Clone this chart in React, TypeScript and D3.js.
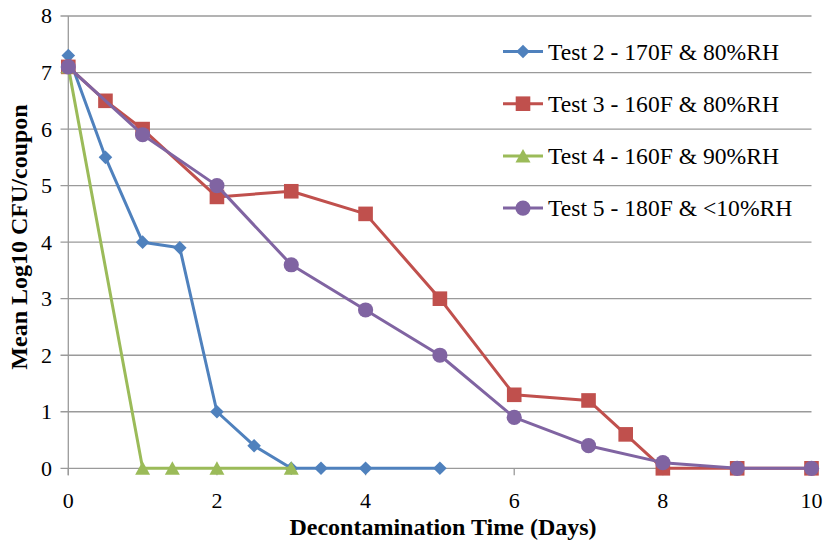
import React from "react";
import * as d3 from "d3";

const test2X = [0, 0.5, 1, 1.5, 2, 2.5, 3, 3.4, 4, 5];
const test2Y = [7.3, 5.5, 4, 3.9, 1, 0.4, 0, 0, 0, 0];
const test3X = [0, 0.5, 1, 2, 3, 4, 5, 6, 7, 7.5, 8, 9, 10];
const test3Y = [7.1, 6.5, 6, 4.8, 4.9, 4.5, 3, 1.3, 1.2, 0.6, 0, 0, 0];
const test4X = [0, 1, 1.4, 2, 3];
const test4Y = [7.1, 0, 0, 0, 0];
const test5X = [0, 1, 2, 3, 4, 5, 6, 7, 8, 9, 10];
const test5Y = [7.1, 5.9, 5, 3.6, 2.8, 2, 0.9, 0.4, 0.1, 0, 0];

const seriesNames = [
  "Test 2 - 170F & 80%RH",
  "Test 3 - 160F & 80%RH",
  "Test 4 - 160F & 90%RH",
  "Test 5 - 180F & <10%RH",
];
const xTicks = [0, 2, 4, 6, 8, 10];
const yTicks = [0, 1, 2, 3, 4, 5, 6, 7, 8];
const xTitle = "Decontamination Time (Days)";
const yTitle = "Mean Log10 CFU/coupon";

const colors = ["#4F81BD", "#C0504D", "#9BBB59", "#8064A2"];
const shapes = ["diamond", "square", "triangle", "circle"];

const FONT = "Liberation Serif";

function Marker({ shape, x, y, color }: { shape: string; x: number; y: number; color: string }) {
  if (shape === "diamond") {
    const s = 6.8;
    return <path d={`M${x},${y - s}L${x + s},${y}L${x},${y + s}L${x - s},${y}Z`} fill={color} />;
  }
  if (shape === "square") {
    const s = 7.3;
    return <rect x={x - s} y={y - s} width={2 * s} height={2 * s} fill={color} />;
  }
  if (shape === "triangle") {
    return <path d={`M${x},${y - 7}L${x + 7.5},${y + 6.5}L${x - 7.5},${y + 6.5}Z`} fill={color} />;
  }
  return <circle cx={x} cy={y} r={7.6} fill={color} />;
}

export default function App() {
  const W = 828, H = 544;
  const x = d3.scaleLinear().domain([0, 10]).range([68.3, 811.5]);
  const y = d3.scaleLinear().domain([0, 8]).range([468.3, 16]);
  const series = [
    { xs: test2X, ys: test2Y },
    { xs: test3X, ys: test3Y },
    { xs: test4X, ys: test4Y },
    { xs: test5X, ys: test5Y },
  ];
  const line = d3.line<[number, number]>().x((d) => x(d[0])).y((d) => y(d[1]));
  const grid = "#9a9a9a";
  const legX = 503, legY0 = 51.5, legDy = 52.2;

  return (
    <svg width={W} height={H} style={{ position: "absolute", left: 0, top: 0, background: "#fff", fontFamily: FONT }}>
      <rect width={W} height={H} fill="#fff" />
      {yTicks.map((t) => (
        <line key={t} x1={60.5} x2={x(10)} y1={y(t)} y2={y(t)} stroke={grid} strokeWidth={1.3} />
      ))}
      <line x1={x(0)} x2={x(0)} y1={y(8)} y2={y(0) + 7} stroke={grid} strokeWidth={1.3} />
      {xTicks.map((t) => (
        <line key={t} x1={x(t)} x2={x(t)} y1={y(0)} y2={y(0) + 7} stroke={grid} strokeWidth={1.3} />
      ))}
      {yTicks.map((t) => (
        <text key={t} x={52} y={y(t)} dy="0.34em" textAnchor="end" fontSize={22} fill="#000" fontFamily={FONT}>{t}</text>
      ))}
      {xTicks.map((t) => (
        <text key={t} x={x(t)} y={508} textAnchor="middle" fontSize={22} fill="#000" fontFamily={FONT}>{t}</text>
      ))}
      <text x={443} y={535} textAnchor="middle" fontSize={24} fontWeight="bold" fill="#000" fontFamily={FONT}>{xTitle}</text>
      <text transform={`translate(27,${237}) rotate(-90)`} textAnchor="middle" fontSize={24} fontWeight="bold" fill="#000" fontFamily={FONT}>{yTitle}</text>

      {series.map((s, i) => {
        const pts = s.xs.map((v, j) => [v, s.ys[j]] as [number, number]);
        return (
          <g key={i}>
            <path d={line(pts) || ""} fill="none" stroke={colors[i]} strokeWidth={3} strokeLinejoin="round" />
            {pts.map((p, j) => (
              <Marker key={j} shape={shapes[i]} x={x(p[0])} y={y(p[1])} color={colors[i]} />
            ))}
          </g>
        );
      })}

      {seriesNames.map((n, i) => {
        const cy = legY0 + i * legDy;
        return (
          <g key={n}>
            <line x1={legX} x2={legX + 40} y1={cy} y2={cy} stroke={colors[i]} strokeWidth={3} />
            <Marker shape={shapes[i]} x={legX + 20} y={cy} color={colors[i]} />
            <text x={legX + 45} y={cy} dy="0.34em" fontSize={23.6} fill="#000" fontFamily={FONT}>{n}</text>
          </g>
        );
      })}
    </svg>
  );
}
